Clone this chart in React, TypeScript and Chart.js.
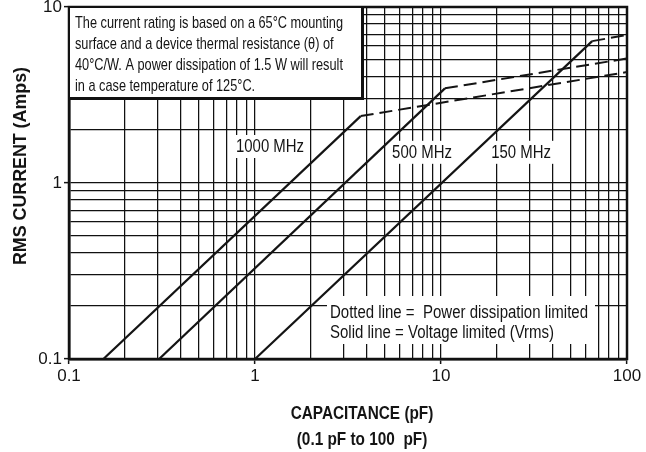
import React, { useEffect, useRef } from 'react';
import { Chart, registerables } from 'chart.js';

Chart.register(...registerables);

// ---- axis ranges and tick labels ----
const X_MIN = 0.1;
const X_MAX = 100;
const Y_MIN = 0.1;
const Y_MAX = 10;
const xTickLabels = [0.1, 1, 10, 100];
const yTickLabels = [0.1, 1, 10];

// ---- series (capacitance pF -> RMS current A) ----
const frequencies = ['1000 MHz', '500 MHz', '150 MHz'];
const voltStartC = [0.153, 0.305, 1.0];
const voltStartI = [0.1, 0.1, 0.1];
const kneeC = [3.7, 10.5, 65];
const kneeI = [2.4, 3.45, 6.4];
const powerEndC = [100, 100, 100];
const powerEndI = [4.27, 5.1, 6.93];

// ---- curve label anchors (data coords: left / baseline) ----
const labelC = [0.79, 5.46, 18.6];
const labelI = [1.5, 1.39, 1.39];

const noteLines = [
  'The current rating is based on a 65\u00B0C mounting',
  'surface and a device thermal resistance (\u03B8) of',
  '40\u00B0C/W. A power dissipation of 1.5 W will result',
  'in a case temperature of 125\u00B0C.',
];
const legendLines = ['Dotted line =  Power dissipation limited', 'Solid line = Voltage limited (Vrms)'];
const xTitle = ['CAPACITANCE (pF)', '(0.1 pF to 100  pF)'];
const yTitle = 'RMS CURRENT (Amps)';

const FONT = "'Liberation Sans', Arial, Helvetica, sans-serif";
const INK = '#141414';

function isPow10(v: number) {
  const l = Math.log10(v);
  return Math.abs(l - Math.round(l)) < 1e-6;
}
function fmt(v: number) {
  return v >= 1 ? String(Math.round(v)) : String(Number(v.toPrecision(2)));
}
function logGrid(min: number, max: number) {
  const out: { value: number; major: boolean }[] = [];
  for (let e = Math.floor(Math.log10(min)); e <= Math.ceil(Math.log10(max)); e++) {
    for (let s = 1; s <= 9; s++) {
      const v = Number((s * Math.pow(10, e)).toPrecision(6));
      if (v >= min - 1e-9 && v <= max + 1e-9) out.push({ value: v, major: s === 1 });
    }
  }
  return out;
}

function drawText(ctx: CanvasRenderingContext2D, text: string, x: number, y: number, font: string, sx: number, align: CanvasTextAlign = 'left') {
  ctx.save();
  ctx.font = font;
  ctx.textBaseline = 'alphabetic';
  ctx.textAlign = align;
  ctx.fillStyle = INK;
  ctx.translate(x, y);
  ctx.scale(sx, 1);
  ctx.fillText(text, 0, 0);
  ctx.restore();
}
function fitScale(ctx: CanvasRenderingContext2D, text: string, font: string, target: number) {
  ctx.save();
  ctx.font = font;
  const w = ctx.measureText(text).width;
  ctx.restore();
  return target / w;
}

const annotate = {
  id: 'annotate',
  beforeDatasetsDraw(chart: any) {
    const { ctx, chartArea: a, scales } = chart;
    const xs = scales.x;
    const ys = scales.y;
    ctx.save();
    // plot frame
    ctx.strokeStyle = '#111';
    ctx.lineWidth = 2.5;
    ctx.strokeRect(a.left, a.top, a.right - a.left, a.bottom - a.top);

    // note box with drop shadow border
    ctx.fillStyle = '#111';
    ctx.fillRect(a.left - 1, a.top - 1, 296, 94);
    ctx.fillStyle = '#fff';
    ctx.fillRect(a.left + 1, a.top + 1, 291, 89);
    const noteFont = `17px ${FONT}`;
    const nsx = fitScale(ctx, noteLines[0], noteFont, 268);
    noteLines.forEach((t, i) => drawText(ctx, t, a.left + 6, a.top + 21 + i * 21, noteFont, nsx));

    // legend box (white, hides grid)
    ctx.fillStyle = '#fff';
    ctx.fillRect(327, a.bottom - 63, 268, 48);
    const legFont = `17.5px ${FONT}`;
    const lsx = fitScale(ctx, legendLines[0], legFont, 258);
    legendLines.forEach((t, i) => drawText(ctx, t, 330, a.bottom - 41 + i * 20, legFont, lsx));

    // curve labels
    const labFont = `18px ${FONT}`;
    frequencies.forEach((t, i) => {
      const x = xs.getPixelForValue(labelC[i]);
      const y = ys.getPixelForValue(labelI[i]);
      ctx.font = labFont;
      const w = ctx.measureText(t).width * 0.83;
      ctx.fillStyle = '#fff';
      ctx.fillRect(x - 4, y - 17, w + 8, 23);
      drawText(ctx, t, x, y, labFont, 0.83);
    });
    ctx.restore();
  },
  afterDraw(chart: any) {
    const { ctx, chartArea: a } = chart;
    // x title
    const xf = `bold 18.5px ${FONT}`;
    const cx = 362;
    drawText(ctx, xTitle[0], cx, a.bottom + 60, xf, 0.83, 'center');
    drawText(ctx, xTitle[1], cx, a.bottom + 86, xf, 0.83, 'center');
    // y title
    const yf = `bold 19px ${FONT}`;
    const ysx = fitScale(ctx, yTitle, yf, 198);
    ctx.save();
    ctx.translate(26, 166);
    ctx.rotate(-Math.PI / 2);
    drawText(ctx, yTitle, 0, 0, yf, ysx, 'center');
    ctx.restore();
  },
};

export default function App() {
  const ref = useRef<HTMLCanvasElement | null>(null);
  useEffect(() => {
    if (!ref.current) return;
    const datasets: any[] = [];
    frequencies.forEach((name, i) => {
      datasets.push({
        label: name + ' (voltage limited)',
        data: [
          { x: voltStartC[i], y: voltStartI[i] },
          { x: kneeC[i], y: kneeI[i] },
        ],
        borderColor: INK,
        borderWidth: 2.2,
        pointRadius: 0,
        fill: false,
        tension: 0,
      });
      datasets.push({
        label: name + ' (power limited)',
        data: [
          { x: kneeC[i], y: kneeI[i] },
          { x: powerEndC[i], y: powerEndI[i] },
        ],
        borderColor: INK,
        borderWidth: 2,
        borderDash: [13, 6],
        pointRadius: 0,
        fill: false,
        tension: 0,
      });
    });
    const tickColor = (c: any) => (c.tick && isPow10(c.tick.value) ? INK : 'rgba(0,0,0,0)');
    const chart = new Chart(ref.current, {
      type: 'line',
      data: { datasets },
      plugins: [annotate],
      options: {
        responsive: false,
        animation: false,
        layout: { padding: { top: 7, right: 19, left: 0, bottom: 0 } },
        plugins: { legend: { display: false }, tooltip: { enabled: false } },
        scales: {
          x: {
            type: 'logarithmic',
            min: X_MIN,
            max: X_MAX,
            position: 'bottom',
            afterBuildTicks: (s: any) => {
              s.ticks = logGrid(X_MIN, X_MAX);
            },
            afterFit: (s: any) => {
              s.height = 93;
            },
            grid: { color: '#111', lineWidth: 1.25, tickLength: 5, tickColor, tickWidth: 1.5 },
            border: { color: '#111', width: 2.5 },
            ticks: {
              autoSkip: false,
              maxRotation: 0,
              padding: 2,
              color: INK,
              font: { family: FONT, size: 17 },
              callback: (v: any) => (xTickLabels.some((t) => Math.abs(t - Number(v)) < 1e-9) ? fmt(Number(v)) : ''),
            },
          },
          y: {
            type: 'logarithmic',
            min: Y_MIN,
            max: Y_MAX,
            afterBuildTicks: (s: any) => {
              s.ticks = logGrid(Y_MIN, Y_MAX);
            },
            afterFit: (s: any) => {
              s.width = 69;
              s.paddingTop = 0;
              s.paddingBottom = 0;
            },
            grid: { color: '#111', lineWidth: 1.25, tickLength: 5, tickColor, tickWidth: 1.5 },
            border: { color: '#111', width: 2.5 },
            ticks: {
              autoSkip: false,
              padding: 2,
              color: INK,
              font: { family: FONT, size: 17 },
              callback: (v: any) => (yTickLabels.some((t) => Math.abs(t - Number(v)) < 1e-9) ? fmt(Number(v)) : ''),
            },
          },
        },
      } as any,
    });
    return () => chart.destroy();
  }, []);
  return (
    <div style={{ position: 'absolute', left: 0, top: 0, width: 646, height: 452, background: '#fff' }}>
      <canvas ref={ref} width={646} height={452} style={{ display: 'block' }} />
    </div>
  );
}
